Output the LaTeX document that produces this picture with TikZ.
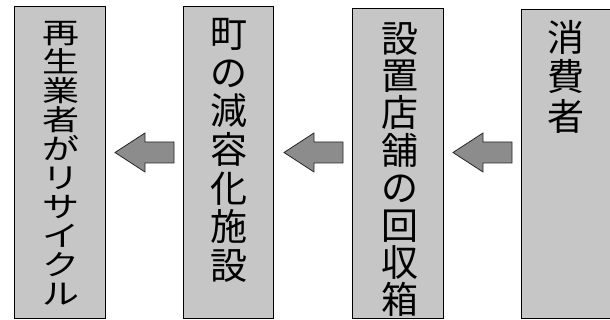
\documentclass[tikz,border=0pt]{standalone}
\usepackage{fontspec}
\newfontfamily\cjk{Noto Sans CJK JP}
\newfontfamily\cjkwide[FakeStretch=1.3]{Noto Sans CJK JP}
\definecolor{boxgray}{RGB}{198,198,198}
\definecolor{arrowgray}{RGB}{140,140,140}
\lineskiplimit=-100pt
\begin{document}
\begin{tikzpicture}[x=1pt,y=-1pt,
  stagebox/.style={draw=black,line width=1pt,fill=boxgray},
  vtext/.style={font=\cjk\fontsize{37}{#1}\selectfont,align=center,inner sep=0pt,anchor=north},
  flowarrow/.style={draw=black!85,line width=0.8pt,fill=arrowgray,line join=miter}]
\useasboundingbox (0,0) rectangle (610,320);
% boxes
\path[stagebox] (14,7) rectangle (105,318);
\path[stagebox] (183,7) rectangle (273,318);
\path[stagebox] (352,9) rectangle (443,318);
\fill[boxgray] (521,10) rectangle (611,318);
\draw[line width=1pt] (612,10) -- (521,10) -- (521,318) -- (612,318);
% texts
\node[vtext=29,font=\cjkwide\fontsize{28.5}{29}\selectfont] (t1) at (61,21) {再\\生\\業\\者\\が\\リ\\サ\\イ\\ク\\ル};
\node[vtext=38.7] (t2) at (229,18) {町\\の\\減\\容\\化\\施\\設};
\node[vtext=37.4] (t3) at (400,22) {設\\置\\店\\舗\\の\\回\\収\\箱};
\node[vtext=39.5] (t4) at (566,20) {消\\費\\者};
% arrows
\foreach \tx in {115,284,453}{
  \draw[flowarrow] (\tx,152.5) -- (\tx+30,133) -- (\tx+30,142) -- (\tx+59,142)
    -- (\tx+59,163) -- (\tx+30,163) -- (\tx+30,172) -- cycle;
}
\end{tikzpicture}
\end{document}
